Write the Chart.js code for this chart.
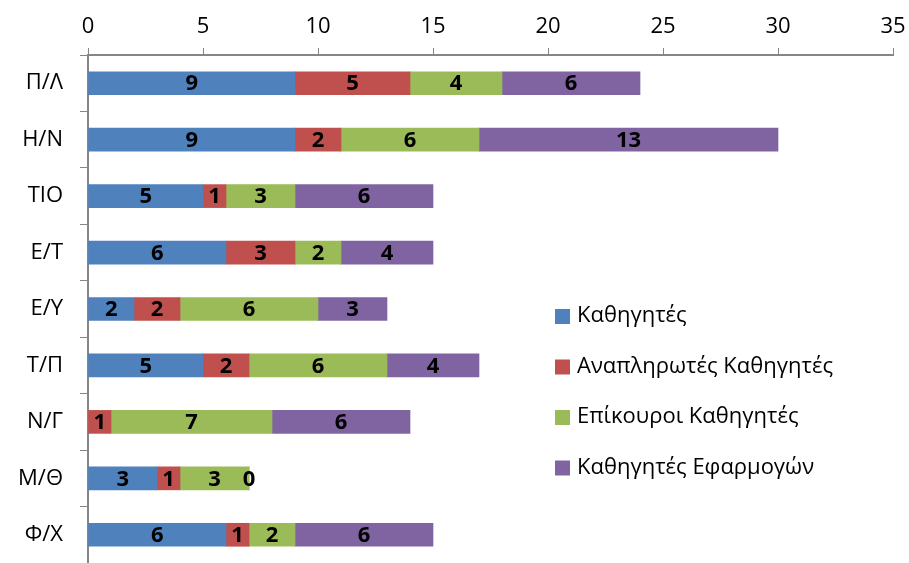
<!DOCTYPE html>
<html>
<head>
<meta charset="utf-8">
<script src="https://cdn.jsdelivr.net/npm/chart.js@4/dist/chart.umd.min.js"></script>
<style>
    html, body { margin: 0; padding: 0; background: #ffffff; }
    #grafico-container { position: relative; width: 909px; height: 563px; }
</style>
</head>
<body>
<div id="grafico-container"><canvas id="grafico"></canvas></div>
<script>
const categorias = ["Π/Λ", "Η/Ν", "ΤΙΟ", "Ε/Τ", "Ε/Υ", "Τ/Π", "Ν/Γ", "Μ/Θ", "Φ/Χ"];
const nomesDasSeries = ["Καθηγητές", "Αναπληρωτές Καθηγητές", "Επίκουροι Καθηγητές", "Καθηγητές Εφαρμογών"];
const cores = ["#4F81BD", "#C0504D", "#9BBB59", "#8064A2"];

const kathigites = [9, 9, 5, 6, 2, 5, null, 3, 6];
const anaplirotes = [5, 2, 1, 3, 2, 2, 1, 1, 1];
const epikouroi = [4, 6, 3, 2, 6, 6, 7, 3, 2];
const efarmogon = [6, 13, 6, 4, 3, 4, 6, 0, 6];

const ticksDoEixo = [0, 5, 10, 15, 20, 25, 30, 35];

const fonte = "'Open Sans', 'Liberation Sans', sans-serif";

// rotulos em negrito no meio de cada segmento
const pluginRotulos = {
    id: "rotulos",
    afterDatasetsDraw(chart) {
        const ctx = chart.ctx;
        ctx.save();
        ctx.font = "bold 22px " + fonte;
        ctx.fillStyle = "#000000";
        ctx.textAlign = "center";
        ctx.textBaseline = "middle";
        chart.data.datasets.forEach((ds, i) => {
            const meta = chart.getDatasetMeta(i);
            meta.data.forEach((barra, j) => {
                const valor = ds.data[j];
                if (valor === null || valor === undefined) return;
                const centro = barra.getCenterPoint();
                ctx.fillText(String(valor), centro.x, centro.y + 1);
            });
        });
        ctx.restore();
    }
};

// legenda desenhada a direita, dentro da area do grafico
const pluginLegenda = {
    id: "legendaLateral",
    afterDraw(chart) {
        const ctx = chart.ctx;
        const x = 555;
        const yInicial = 316;
        const passo = 50.5;
        ctx.save();
        ctx.font = "22px " + fonte;
        ctx.textBaseline = "middle";
        ctx.textAlign = "left";
        nomesDasSeries.forEach((nome, i) => {
            const y = yInicial + i * passo;
            ctx.fillStyle = cores[i];
            ctx.fillRect(x, y - 7, 15, 15);
            ctx.fillStyle = "#000000";
            ctx.fillText(nome, x + 22, y);
        });
        ctx.restore();
    }
};

function criarGrafico() {
    const ctx = document.querySelector("#grafico");
    const series = [kathigites, anaplirotes, epikouroi, efarmogon];

    return new Chart(ctx, {
        type: "bar",
        data: {
            labels: categorias,
            datasets: series.map((valores, i) => ({
                label: nomesDasSeries[i],
                data: valores,
                backgroundColor: cores[i],
                borderWidth: 0,
                barThickness: 23
            }))
        },
        options: {
            indexAxis: "y",
            responsive: false,
            animation: false,
            maintainAspectRatio: false,
            layout: { padding: { right: 16, top: 0, bottom: 0, left: 0 } },
            plugins: {
                legend: { display: false },
                tooltip: { enabled: false }
            },
            scales: {
                x: {
                    position: "top",
                    stacked: true,
                    min: 0,
                    max: 35,
                    afterBuildTicks: (eixo) => {
                        eixo.ticks = ticksDoEixo.map(v => ({ value: v }));
                    },
                    afterFit: (eixo) => {
                        eixo.height = 55;
                        eixo.paddingLeft = 0;
                        eixo.paddingRight = 0;
                    },
                    grid: {
                        drawOnChartArea: false,
                        drawTicks: true,
                        tickLength: 7,
                        color: "#868686"
                    },
                    border: { color: "#868686", width: 2 },
                    ticks: {
                        color: "#000000",
                        padding: 8,
                        font: { family: fonte, size: 22 }
                    }
                },
                y: {
                    stacked: true,
                    afterFit: (eixo) => {
                        eixo.width = 88;
                        eixo.paddingTop = 0;
                        eixo.paddingBottom = 0;
                    },
                    grid: {
                        drawOnChartArea: false,
                        drawTicks: true,
                        tickLength: 8,
                        offset: true,
                        color: "#868686"
                    },
                    border: { color: "#868686", width: 2 },
                    ticks: {
                        color: "#000000",
                        padding: 17,
                        font: { family: fonte, size: 22 }
                    }
                }
            }
        },
        plugins: [pluginRotulos, pluginLegenda]
    });
}

const canvas = document.querySelector("#grafico");
canvas.width = 909;
canvas.height = 563;
criarGrafico();
</script>
</body>
</html>
